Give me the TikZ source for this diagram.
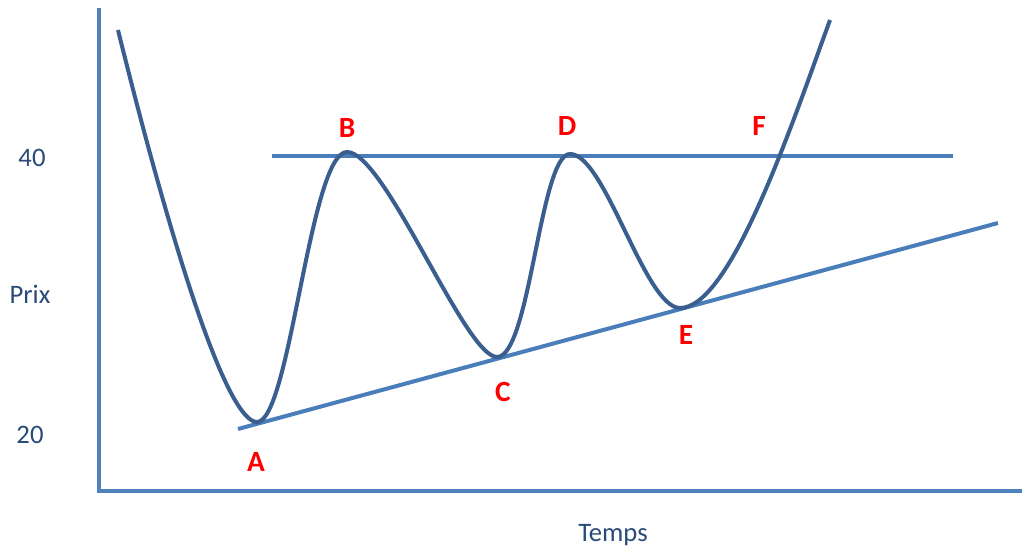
\documentclass[tikz,border=0pt]{standalone}
\usepackage{fontspec}
\setmainfont{Carlito}
\definecolor{axisblue}{HTML}{4F81BD}
\definecolor{lineblue}{HTML}{4A7EBB}
\definecolor{curveblue}{HTML}{3A5F8F}
\definecolor{txtblue}{HTML}{2A4A7A}
\definecolor{ptred}{HTML}{FF0000}
\begin{document}
\begin{tikzpicture}[x=0.75pt,y=-0.75pt,
  axisline/.style={draw=axisblue,line width=3pt},
  trendline/.style={draw=lineblue,line width=3pt},
  curveline/.style={draw=curveblue,line width=3pt},
  ptlabel/.style={text=ptred,font=\bfseries\fontsize{22}{26}\selectfont,inner sep=0pt},
  axlabel/.style={text=txtblue,font=\fontsize{20}{24}\selectfont,inner sep=0pt}]
\useasboundingbox (0,0) rectangle (1024,549);
% axes
\coordinate (ytop) at (99,8);
\coordinate (orig) at (99,491);
\coordinate (xend) at (1022,491);
\draw[axisline] (ytop) -- (orig) -- (xend);
% resistance and support
\coordinate (r1) at (272,156);
\coordinate (r2) at (953,156);
\draw[trendline] (r1) -- (r2);
\coordinate (s1) at (238,429);
\coordinate (s2) at (998,223);
\draw[trendline] (s1) -- (s2);
% price curve
\coordinate (st) at (118,30);
\coordinate (pA) at (257,422);
\coordinate (pB) at (347,152);
\coordinate (pC) at (497,357);
\coordinate (pD) at (570,154);
\coordinate (pE) at (680,308);
\coordinate (en) at (830,20);
\draw[curveline] (st) .. controls (175,260) and (228,422) .. (pA)
  .. controls (290,422) and (310,152) .. (pB)
  .. controls (385,152) and (465,357) .. (pC)
  .. controls (530,357) and (540,154) .. (pD)
  .. controls (605,154) and (645,308) .. (pE)
  .. controls (730,308) and (790,130) .. (en);
% point labels
\node[ptlabel] (lA) at (256,462) {A};
\node[ptlabel] (lB) at (347,128) {B};
\node[ptlabel] (lC) at (503,392) {C};
\node[ptlabel] (lD) at (567,126) {D};
\node[ptlabel] (lE) at (686,335) {E};
\node[ptlabel] (lF) at (759,126) {F};
% axis labels
\node[axlabel] (l40) at (32,158) {40};
\node[axlabel] (lprix) at (30,294) {Prix};
\node[axlabel] (l20) at (30,435) {20};
\node[axlabel] (ltemps) at (613,535) {Temps};
\end{tikzpicture}
\end{document}
